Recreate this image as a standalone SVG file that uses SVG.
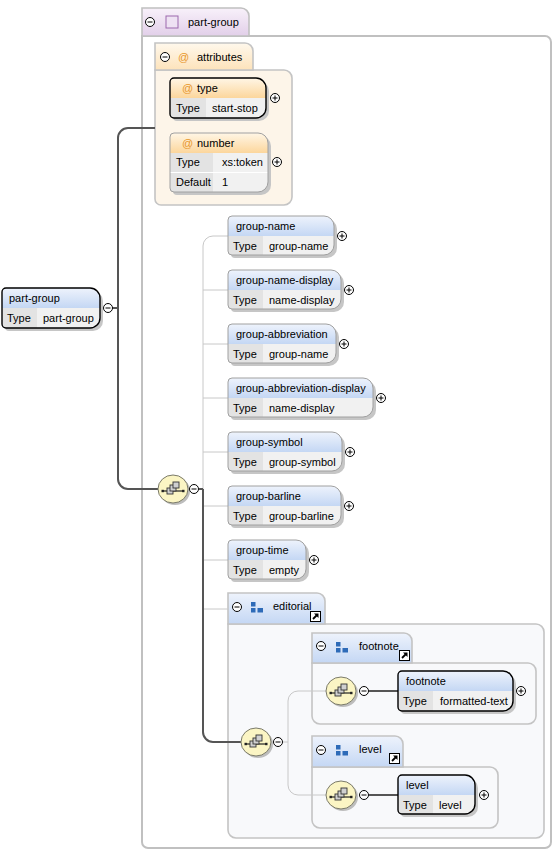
<svg xmlns="http://www.w3.org/2000/svg" xmlns:xlink="http://www.w3.org/1999/xlink" width="554" height="850" viewBox="0 0 554 850">
<style>
.t{font-family:"Liberation Sans",Arial,sans-serif;font-size:11px;fill:#000}
.at{font-family:"Liberation Sans",Arial,sans-serif;font-size:11px;fill:#e8962a}
.sh{fill:#c6c6c6}
.he{fill:url(#gE)}
.ha{fill:url(#gA)}
.rw{fill:#f1f1f1}
.cl{fill:#e3e3e3}
.ol{fill:none;stroke:#a0a0a0;stroke-width:1}
.rq{fill:none;stroke:#000;stroke-width:1.4}
.gb{stroke:#c4c4c4;stroke-width:1.6}
.dk{fill:none;stroke:#555;stroke-width:2}
.lt{fill:none;stroke:#c8c8c8;stroke-width:1}
</style>
<defs>
<linearGradient id="gE" x1="0" y1="0" x2="0" y2="1"><stop offset="0" stop-color="#eef3fc"/><stop offset="1" stop-color="#c4d7f4"/></linearGradient>
<linearGradient id="gA" x1="0" y1="0" x2="0" y2="1"><stop offset="0" stop-color="#fff6e6"/><stop offset="1" stop-color="#fcd69c"/></linearGradient>
<linearGradient id="gAt" x1="0" y1="0" x2="0" y2="1"><stop offset="0" stop-color="#fff8ec"/><stop offset="1" stop-color="#fde3bb"/></linearGradient>
<linearGradient id="gP" x1="0" y1="0" x2="0" y2="1"><stop offset="0" stop-color="#f8f1fa"/><stop offset="1" stop-color="#e2cfe9"/></linearGradient>
<g id="minus"><circle r="4.5" fill="#fff" stroke="#000" stroke-width="1"/><path d="M-2.5,0H2.5" stroke="#000" stroke-width="1"/></g>
<g id="plus"><circle r="4.5" fill="#fff" stroke="#000" stroke-width="1"/><path d="M-2.5,0H2.5M0,-2.5V2.5" stroke="#000" stroke-width="1"/></g>
<g id="seq">
<ellipse cx="2" cy="2" rx="15" ry="14" fill="#bdbdbd"/>
<ellipse cx="0" cy="0" rx="15" ry="14" fill="#fbf5c4" stroke="#7a7a6a" stroke-width="1"/>
<path d="M-10,2H10" stroke="#222" stroke-width="1.2"/>
<rect x="-11.5" y="0.8" width="2.4" height="2.4" fill="#222"/>
<rect x="9.1" y="0.8" width="2.4" height="2.4" fill="#222"/>
<rect x="-6" y="-1" width="6" height="6" fill="#d0d0d0" stroke="#333" stroke-width="0.9"/>
<rect x="-3" y="-4" width="6" height="6" fill="#d0d0d0" stroke="#333" stroke-width="0.9"/>
<rect x="0" y="-7" width="6" height="6" fill="#d0d0d0" stroke="#333" stroke-width="0.9"/>
</g>
<g id="grp" fill="#2e6bb8"><rect x="0" y="0" width="4.5" height="4.5"/><rect x="0" y="6" width="4.5" height="4.5"/><rect x="6.5" y="6" width="5.5" height="4.5"/></g>
<g id="lnk"><rect x="0.5" y="0.5" width="10" height="10" fill="#fff" stroke="#000" stroke-width="1"/><path d="M3,8L7,4" stroke="#000" stroke-width="1.8"/><path d="M4,2.5H8.5V7Z" fill="#000"/></g>
</defs>

<!-- containers -->
<g id="part-group-model">
<path d="M142,36H545A6,6 0 0 1 551,42V842A6,6 0 0 1 545,848H148A6,6 0 0 1 142,842Z" fill="#fff" stroke="#c0c0c0" stroke-width="2"/>
<path d="M142,36V8H241A8,8 0 0 1 249,16V36Z" fill="url(#gP)" stroke="#c0c0c0" stroke-width="1.6"/>
<use href="#minus" x="150" y="22"/>
<rect x="166" y="16" width="12" height="12" fill="#eee2f3" stroke="#9b68ad" stroke-width="1"/>
<text class="t" x="188" y="26">part-group</text>
</g>

<g id="attributes">
<path d="M155,70H284A8,8 0 0 1 292,78V197A8,8 0 0 1 284,205H161A6,6 0 0 1 155,199Z" fill="#fdf5e9" class="gb"/>
<path d="M155,70V43H245A8,8 0 0 1 253,51V70Z" fill="url(#gAt)" class="gb"/>
<use href="#minus" x="165" y="57"/>
<text class="at" x="178" y="61">@</text>
<text class="t" x="197" y="61">attributes</text>
</g>

<g id="editorial">
<path d="M228,624H536A8,8 0 0 1 544,632V830A8,8 0 0 1 536,838H236A8,8 0 0 1 228,830Z" fill="#f8f9fb" class="gb"/>
<path d="M228,624V593H317A8,8 0 0 1 325,601V624Z" fill="url(#gE)" class="gb"/>
<use href="#minus" x="237" y="607"/>
<use href="#grp" x="251" y="602"/>
<text class="t" x="273" y="610">editorial</text>
<use href="#lnk" x="310" y="611"/>
</g>

<g id="footnote-group">
<path d="M312,663H528A8,8 0 0 1 536,671V716A8,8 0 0 1 528,724H320A8,8 0 0 1 312,716Z" fill="#f8f9fb" class="gb"/>
<path d="M312,663V633H404A8,8 0 0 1 412,641V663Z" fill="url(#gE)" class="gb"/>
<use href="#minus" x="321" y="646"/>
<use href="#grp" x="336" y="642"/>
<text class="t" x="359" y="650">footnote</text>
<use href="#lnk" x="399" y="650"/>
</g>

<g id="level-group">
<path d="M312,767H490A8,8 0 0 1 498,775V820A8,8 0 0 1 490,828H320A8,8 0 0 1 312,820Z" fill="#f8f9fb" class="gb"/>
<path d="M312,767V736H395A8,8 0 0 1 403,744V767Z" fill="url(#gE)" class="gb"/>
<use href="#minus" x="321" y="750"/>
<use href="#grp" x="336" y="745"/>
<text class="t" x="359" y="753">level</text>
<use href="#lnk" x="389" y="753"/>
</g>

<!-- connectors -->
<g id="connectors">
<path class="lt" d="M228,236H213A10,10 0 0 0 203,246V609H228M203,290H228M203,344H228M203,398H228M203,452H228M203,506H228M203,560H228"/>
<path class="lt" d="M283,742H288M327,691H298A10,10 0 0 0 288,701V785A10,10 0 0 0 298,795H327"/>
<path class="dk" d="M112,308H118"/>
<path class="dk" d="M155,128H128A10,10 0 0 0 118,138V479A10,10 0 0 0 128,489H158"/>
<path class="dk" d="M199,489H203M203,489V732A10,10 0 0 0 213,742H241"/>
<path class="dk" d="M369,691H398M369,795H398"/>
</g>

<!-- compositors -->
<g id="seq-main"><use href="#seq" x="173" y="489"/><use href="#minus" x="194" y="489"/></g>
<g id="seq-editorial"><use href="#seq" x="256" y="742"/><use href="#minus" x="278" y="742"/></g>
<g id="seq-footnote"><use href="#seq" x="341" y="691"/><use href="#minus" x="364" y="691"/></g>
<g id="seq-level"><use href="#seq" x="341" y="795"/><use href="#minus" x="364" y="795"/></g>

<!-- part-group root element -->
<g id="part-group" transform="translate(2,288)">
<path class="sh" transform="translate(3,3)" d="M4,0H88A10,10 0 0 1 98,10V30A10,10 0 0 1 88,40H4A4,4 0 0 1 0,36V4A4,4 0 0 1 4,0Z"/>
<path class="he" d="M4,0H88A10,10 0 0 1 98,10V20H0V4A4,4 0 0 1 4,0Z"/>
<path class="rw" d="M0,20H98V30A10,10 0 0 1 88,40H4A4,4 0 0 1 0,36Z"/>
<path class="cl" d="M0,20H35V40H4A4,4 0 0 1 0,36Z"/>
<path class="rq" d="M4,0H88A10,10 0 0 1 98,10V30A10,10 0 0 1 88,40H4A4,4 0 0 1 0,36V4A4,4 0 0 1 4,0Z"/>
<text class="t" x="7" y="14">part-group</text>
<text class="t" x="5" y="34">Type</text>
<text class="t" x="41" y="34">part-group</text>
<use href="#minus" x="106" y="20"/>
</g>

<!-- attributes -->
<g id="attr-type" transform="translate(170,78)">
<path class="sh" transform="translate(3,3)" d="M4,0H86A10,10 0 0 1 96,10V30A10,10 0 0 1 86,40H4A4,4 0 0 1 0,36V4A4,4 0 0 1 4,0Z"/>
<path class="ha" d="M4,0H86A10,10 0 0 1 96,10V20H0V4A4,4 0 0 1 4,0Z"/>
<path class="rw" d="M0,20H96V30A10,10 0 0 1 86,40H4A4,4 0 0 1 0,36Z"/>
<path class="cl" d="M0,20H36V40H4A4,4 0 0 1 0,36Z"/>
<path class="rq" d="M4,0H86A10,10 0 0 1 96,10V30A10,10 0 0 1 86,40H4A4,4 0 0 1 0,36V4A4,4 0 0 1 4,0Z"/>
<text class="at" x="12" y="14">@</text>
<text class="t" x="27" y="14">type</text>
<text class="t" x="6" y="34">Type</text>
<text class="t" x="42" y="34">start-stop</text>
<use href="#plus" x="105" y="20"/>
</g>

<g id="attr-number" transform="translate(170,133)">
<path class="sh" transform="translate(3,3)" d="M4,0H88A10,10 0 0 1 98,10V49A10,10 0 0 1 88,59H4A4,4 0 0 1 0,55V4A4,4 0 0 1 4,0Z"/>
<path class="ha" d="M4,0H88A10,10 0 0 1 98,10V20H0V4A4,4 0 0 1 4,0Z"/>
<path class="rw" d="M0,20H98V49A10,10 0 0 1 88,59H4A4,4 0 0 1 0,55Z"/>
<path class="cl" d="M0,20H43V59H4A4,4 0 0 1 0,55Z"/>
<path d="M0,39.5H98" stroke="#fff" stroke-width="1"/>
<path class="ol" d="M4,0H88A10,10 0 0 1 98,10V49A10,10 0 0 1 88,59H4A4,4 0 0 1 0,55V4A4,4 0 0 1 4,0Z"/>
<text class="at" x="12" y="14">@</text>
<text class="t" x="27" y="14">number</text>
<text class="t" x="6" y="33">Type</text>
<text class="t" x="52" y="33">xs:token</text>
<text class="t" x="6" y="53">Default</text>
<text class="t" x="52" y="53">1</text>
<use href="#plus" x="107" y="29"/>
</g>

<!-- sequence children -->
<g id="group-name" transform="translate(228,216)">
<path class="sh" transform="translate(3,3)" d="M4,0H96A10,10 0 0 1 106,10V29A10,10 0 0 1 96,39H4A4,4 0 0 1 0,35V4A4,4 0 0 1 4,0Z"/>
<path class="he" d="M4,0H96A10,10 0 0 1 106,10V20H0V4A4,4 0 0 1 4,0Z"/>
<path class="rw" d="M0,20H106V29A10,10 0 0 1 96,39H4A4,4 0 0 1 0,35Z"/>
<path class="cl" d="M0,20H35V39H4A4,4 0 0 1 0,35Z"/>
<path class="ol" d="M4,0H96A10,10 0 0 1 106,10V29A10,10 0 0 1 96,39H4A4,4 0 0 1 0,35V4A4,4 0 0 1 4,0Z"/>
<text class="t" x="8" y="14">group-name</text>
<text class="t" x="5" y="34">Type</text>
<text class="t" x="41" y="34">group-name</text>
<use href="#plus" x="114" y="20"/>
</g>

<g id="group-name-display" transform="translate(228,270)">
<path class="sh" transform="translate(3,3)" d="M4,0H103A10,10 0 0 1 113,10V29A10,10 0 0 1 103,39H4A4,4 0 0 1 0,35V4A4,4 0 0 1 4,0Z"/>
<path class="he" d="M4,0H103A10,10 0 0 1 113,10V20H0V4A4,4 0 0 1 4,0Z"/>
<path class="rw" d="M0,20H113V29A10,10 0 0 1 103,39H4A4,4 0 0 1 0,35Z"/>
<path class="cl" d="M0,20H35V39H4A4,4 0 0 1 0,35Z"/>
<path class="ol" d="M4,0H103A10,10 0 0 1 113,10V29A10,10 0 0 1 103,39H4A4,4 0 0 1 0,35V4A4,4 0 0 1 4,0Z"/>
<text class="t" x="8" y="14">group-name-display</text>
<text class="t" x="5" y="34">Type</text>
<text class="t" x="41" y="34">name-display</text>
<use href="#plus" x="121" y="20"/>
</g>

<g id="group-abbreviation" transform="translate(228,324)">
<path class="sh" transform="translate(3,3)" d="M4,0H98A10,10 0 0 1 108,10V29A10,10 0 0 1 98,39H4A4,4 0 0 1 0,35V4A4,4 0 0 1 4,0Z"/>
<path class="he" d="M4,0H98A10,10 0 0 1 108,10V20H0V4A4,4 0 0 1 4,0Z"/>
<path class="rw" d="M0,20H108V29A10,10 0 0 1 98,39H4A4,4 0 0 1 0,35Z"/>
<path class="cl" d="M0,20H35V39H4A4,4 0 0 1 0,35Z"/>
<path class="ol" d="M4,0H98A10,10 0 0 1 108,10V29A10,10 0 0 1 98,39H4A4,4 0 0 1 0,35V4A4,4 0 0 1 4,0Z"/>
<text class="t" x="8" y="14">group-abbreviation</text>
<text class="t" x="5" y="34">Type</text>
<text class="t" x="41" y="34">group-name</text>
<use href="#plus" x="116" y="20"/>
</g>

<g id="group-abbreviation-display" transform="translate(228,378)">
<path class="sh" transform="translate(3,3)" d="M4,0H135A10,10 0 0 1 145,10V29A10,10 0 0 1 135,39H4A4,4 0 0 1 0,35V4A4,4 0 0 1 4,0Z"/>
<path class="he" d="M4,0H135A10,10 0 0 1 145,10V20H0V4A4,4 0 0 1 4,0Z"/>
<path class="rw" d="M0,20H145V29A10,10 0 0 1 135,39H4A4,4 0 0 1 0,35Z"/>
<path class="cl" d="M0,20H35V39H4A4,4 0 0 1 0,35Z"/>
<path class="ol" d="M4,0H135A10,10 0 0 1 145,10V29A10,10 0 0 1 135,39H4A4,4 0 0 1 0,35V4A4,4 0 0 1 4,0Z"/>
<text class="t" x="8" y="14">group-abbreviation-display</text>
<text class="t" x="5" y="34">Type</text>
<text class="t" x="41" y="34">name-display</text>
<use href="#plus" x="153" y="20"/>
</g>

<g id="group-symbol" transform="translate(228,432)">
<path class="sh" transform="translate(3,3)" d="M4,0H104A10,10 0 0 1 114,10V29A10,10 0 0 1 104,39H4A4,4 0 0 1 0,35V4A4,4 0 0 1 4,0Z"/>
<path class="he" d="M4,0H104A10,10 0 0 1 114,10V20H0V4A4,4 0 0 1 4,0Z"/>
<path class="rw" d="M0,20H114V29A10,10 0 0 1 104,39H4A4,4 0 0 1 0,35Z"/>
<path class="cl" d="M0,20H35V39H4A4,4 0 0 1 0,35Z"/>
<path class="ol" d="M4,0H104A10,10 0 0 1 114,10V29A10,10 0 0 1 104,39H4A4,4 0 0 1 0,35V4A4,4 0 0 1 4,0Z"/>
<text class="t" x="8" y="14">group-symbol</text>
<text class="t" x="5" y="34">Type</text>
<text class="t" x="41" y="34">group-symbol</text>
<use href="#plus" x="122" y="20"/>
</g>

<g id="group-barline" transform="translate(228,486)">
<path class="sh" transform="translate(3,3)" d="M4,0H103A10,10 0 0 1 113,10V29A10,10 0 0 1 103,39H4A4,4 0 0 1 0,35V4A4,4 0 0 1 4,0Z"/>
<path class="he" d="M4,0H103A10,10 0 0 1 113,10V20H0V4A4,4 0 0 1 4,0Z"/>
<path class="rw" d="M0,20H113V29A10,10 0 0 1 103,39H4A4,4 0 0 1 0,35Z"/>
<path class="cl" d="M0,20H35V39H4A4,4 0 0 1 0,35Z"/>
<path class="ol" d="M4,0H103A10,10 0 0 1 113,10V29A10,10 0 0 1 103,39H4A4,4 0 0 1 0,35V4A4,4 0 0 1 4,0Z"/>
<text class="t" x="8" y="14">group-barline</text>
<text class="t" x="5" y="34">Type</text>
<text class="t" x="41" y="34">group-barline</text>
<use href="#plus" x="121" y="20"/>
</g>

<g id="group-time" transform="translate(228,540)">
<path class="sh" transform="translate(3,3)" d="M4,0H68A10,10 0 0 1 78,10V29A10,10 0 0 1 68,39H4A4,4 0 0 1 0,35V4A4,4 0 0 1 4,0Z"/>
<path class="he" d="M4,0H68A10,10 0 0 1 78,10V20H0V4A4,4 0 0 1 4,0Z"/>
<path class="rw" d="M0,20H78V29A10,10 0 0 1 68,39H4A4,4 0 0 1 0,35Z"/>
<path class="cl" d="M0,20H35V39H4A4,4 0 0 1 0,35Z"/>
<path class="ol" d="M4,0H68A10,10 0 0 1 78,10V29A10,10 0 0 1 68,39H4A4,4 0 0 1 0,35V4A4,4 0 0 1 4,0Z"/>
<text class="t" x="8" y="14">group-time</text>
<text class="t" x="5" y="34">Type</text>
<text class="t" x="41" y="34">empty</text>
<use href="#plus" x="86" y="20"/>
</g>

<g id="footnote" transform="translate(398,671)">
<path class="sh" transform="translate(3,3)" d="M4,0H105A10,10 0 0 1 115,10V30A10,10 0 0 1 105,40H4A4,4 0 0 1 0,36V4A4,4 0 0 1 4,0Z"/>
<path class="he" d="M4,0H105A10,10 0 0 1 115,10V20H0V4A4,4 0 0 1 4,0Z"/>
<path class="rw" d="M0,20H115V30A10,10 0 0 1 105,40H4A4,4 0 0 1 0,36Z"/>
<path class="cl" d="M0,20H35V40H4A4,4 0 0 1 0,36Z"/>
<path class="rq" d="M4,0H105A10,10 0 0 1 115,10V30A10,10 0 0 1 105,40H4A4,4 0 0 1 0,36V4A4,4 0 0 1 4,0Z"/>
<text class="t" x="8" y="14">footnote</text>
<text class="t" x="5" y="34">Type</text>
<text class="t" x="42" y="34">formatted-text</text>
<use href="#plus" x="123" y="20"/>
</g>

<g id="level" transform="translate(398,775)">
<path class="sh" transform="translate(3,3)" d="M4,0H67A10,10 0 0 1 77,10V29A10,10 0 0 1 67,39H4A4,4 0 0 1 0,35V4A4,4 0 0 1 4,0Z"/>
<path class="he" d="M4,0H67A10,10 0 0 1 77,10V20H0V4A4,4 0 0 1 4,0Z"/>
<path class="rw" d="M0,20H77V29A10,10 0 0 1 67,39H4A4,4 0 0 1 0,35Z"/>
<path class="cl" d="M0,20H35V39H4A4,4 0 0 1 0,35Z"/>
<path class="rq" d="M4,0H67A10,10 0 0 1 77,10V29A10,10 0 0 1 67,39H4A4,4 0 0 1 0,35V4A4,4 0 0 1 4,0Z"/>
<text class="t" x="8" y="14">level</text>
<text class="t" x="5" y="34">Type</text>
<text class="t" x="41" y="34">level</text>
<use href="#plus" x="86" y="20"/>
</g>
</svg>
